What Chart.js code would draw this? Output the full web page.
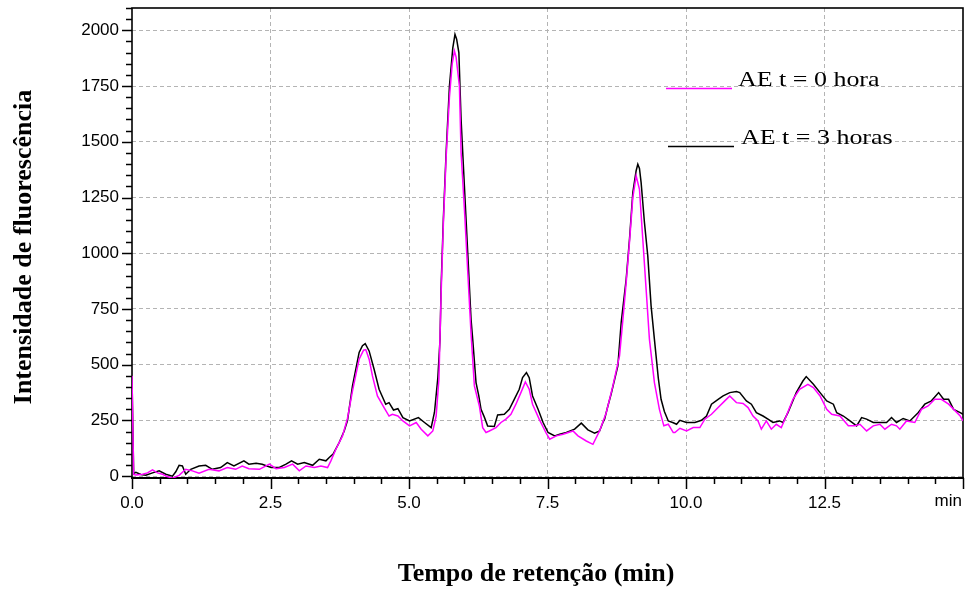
<!DOCTYPE html>
<html><head><meta charset="utf-8">
<script src="https://cdn.jsdelivr.net/npm/chart.js@4.4.0/dist/chart.umd.min.js"></script>
<style>html,body{margin:0;padding:0;background:#fff;}canvas{display:block;}</style>
</head><body>
<canvas id="c" width="966" height="591"></canvas>
<script>
// ---- data ----
const seriesLabels = ['AE t = 0 hora', 'AE t = 3 horas'];
const seriesColors = ['#ff00ff', '#000000'];

const timeT0 = [0.00,0.03,0.07,0.19,0.28,0.37,0.46,0.55,0.61,0.73,0.85,0.97,1.09,1.21,1.39,1.57,1.72,1.87,1.99,2.11,2.30,2.48,2.60,2.75,2.90,3.02,3.14,3.29,3.41,3.53,3.59,3.68,3.80,3.89,3.98,4.10,4.18,4.22,4.28,4.34,4.43,4.55,4.64,4.70,4.80,4.89,5.01,5.13,5.22,5.34,5.43,5.49,5.54,5.58,5.62,5.67,5.73,5.78,5.82,5.85,5.91,5.94,6.00,6.06,6.12,6.18,6.27,6.33,6.39,6.45,6.57,6.66,6.75,6.84,6.93,7.02,7.10,7.17,7.23,7.35,7.47,7.54,7.66,7.78,7.96,8.05,8.20,8.32,8.44,8.56,8.68,8.80,8.86,8.92,8.98,9.04,9.10,9.16,9.22,9.28,9.34,9.43,9.52,9.60,9.68,9.77,9.80,9.89,10.01,10.13,10.25,10.34,10.46,10.58,10.70,10.79,10.91,11.03,11.12,11.21,11.30,11.36,11.45,11.54,11.63,11.72,11.81,11.93,12.05,12.20,12.30,12.42,12.54,12.63,12.78,12.93,13.05,13.14,13.26,13.38,13.50,13.59,13.71,13.80,13.86,13.98,14.13,14.25,14.37,14.49,14.61,14.74,14.86,14.95,15.00];
const intensityT0 = [450,8,5,9,15,28,15,9,1,-9,4,31,24,13,31,24,39,31,46,34,31,54,34,39,54,24,46,39,46,39,69,121,181,260,383,525,565,568,525,450,360,308,270,278,270,248,226,241,211,181,203,270,435,820,1130,1430,1700,1850,1907,1880,1750,1452,1200,920,640,405,315,218,196,203,218,241,256,278,323,375,423,390,323,256,196,166,181,188,203,181,158,143,203,285,405,540,700,868,1050,1250,1347,1287,1063,839,614,420,300,226,233,196,196,215,203,218,218,256,278,308,338,360,330,326,308,270,248,211,248,211,233,218,270,345,390,412,398,360,300,278,270,226,226,233,203,226,233,211,233,226,211,248,241,300,315,345,345,323,293,270,248];

const timeT3 = [0.00,0.03,0.07,0.16,0.25,0.37,0.49,0.61,0.73,0.79,0.85,0.91,0.97,1.06,1.21,1.33,1.45,1.60,1.72,1.84,2.02,2.11,2.24,2.35,2.51,2.66,2.78,2.88,2.99,3.11,3.26,3.38,3.50,3.56,3.63,3.74,3.83,3.89,3.98,4.10,4.16,4.21,4.28,4.37,4.46,4.58,4.64,4.72,4.80,4.89,5.01,5.17,5.28,5.40,5.46,5.52,5.56,5.58,5.62,5.67,5.73,5.79,5.83,5.86,5.90,5.94,6.00,6.06,6.12,6.15,6.21,6.26,6.30,6.36,6.42,6.54,6.60,6.72,6.81,6.90,6.99,7.05,7.12,7.17,7.23,7.33,7.42,7.51,7.63,7.72,7.84,7.99,8.11,8.23,8.35,8.44,8.50,8.53,8.59,8.65,8.77,8.83,8.92,8.98,9.04,9.10,9.13,9.16,9.19,9.25,9.31,9.37,9.43,9.50,9.55,9.61,9.68,9.77,9.83,9.89,10.01,10.16,10.28,10.37,10.46,10.58,10.67,10.79,10.91,10.97,11.09,11.18,11.27,11.39,11.48,11.57,11.69,11.75,11.84,11.99,12.11,12.17,12.30,12.42,12.54,12.66,12.72,12.84,12.96,13.08,13.17,13.26,13.38,13.50,13.62,13.71,13.80,13.92,14.04,14.19,14.31,14.43,14.56,14.65,14.74,14.83,14.95,15.00];
const intensityT3 = [440,12,17,8,4,15,24,9,0,20,49,46,9,31,46,49,31,39,61,46,69,54,58,54,39,39,54,69,54,61,49,76,69,84,99,151,203,250,405,555,585,595,562,480,390,323,330,297,303,263,248,263,241,218,287,440,614,853,1152,1452,1750,1920,1982,1960,1900,1601,1302,1003,704,614,420,360,300,265,225,223,275,278,300,345,390,442,465,442,360,300,241,196,181,188,196,211,238,208,193,203,241,256,315,370,495,689,883,1063,1272,1370,1399,1380,1317,1138,988,764,614,440,345,290,248,240,233,251,241,241,251,270,323,345,360,375,380,375,338,323,285,270,256,241,248,241,285,375,427,447,412,375,338,323,285,270,248,226,263,256,241,241,241,263,241,259,248,285,323,338,375,345,345,300,285,278];

const xMajorValues = [0, 2.5, 5, 7.5, 10, 12.5];
const xMajorLabels = ['0.0', '2.5', '5.0', '7.5', '10.0', '12.5'];
const xUnitLabel = 'min';
const yMajorValues = [0, 250, 500, 750, 1000, 1250, 1500, 1750, 2000];
const yMajorLabels = ['0', '250', '500', '750', '1000', '1250', '1500', '1750', '2000'];
const xTitle = 'Tempo de retenção (min)';
const yTitle = 'Intensidade de fluorescência';

// ---- chart ----
const X_MIN = 0, X_MAX = 15, X_STEP = 0.5;
const Y_MIN = -8, Y_MAX = 2100, Y_STEP = 50;
const GRID = '#b4b4b4';
const TICK_FONT = {family: '"Liberation Sans", Arial, sans-serif', size: 17};

function toPoints(ts, vs) { return ts.map((t, i) => ({x: t, y: vs[i]})); }
function isMajorX(v) { return xMajorValues.some(m => Math.abs(m - v) < 1e-6); }
function isMajorY(v) { return yMajorValues.some(m => Math.abs(m - v) < 1e-6); }

const framePlugin = {
  id: 'frame',
  beforeDatasetsDraw(chart) {
    const {ctx, chartArea: a, scales: {x, y}} = chart;
    ctx.save();
    ctx.strokeStyle = '#000';
    ctx.lineWidth = 1.6;
    ctx.strokeRect(a.left, a.top, a.right - a.left, a.bottom - a.top);
    ctx.lineWidth = 2;
    ctx.beginPath(); ctx.moveTo(a.left - 1, a.bottom); ctx.lineTo(a.right + 1, a.bottom); ctx.stroke();
    ctx.lineWidth = 1.5;
    for (let v = 0; v <= Y_MAX + 1e-6; v += Y_STEP) {
      const py = Math.round(y.getPixelForValue(v)) + 0.5;
      const len = isMajorY(v) ? 10 : 6;
      ctx.beginPath(); ctx.moveTo(a.left - len, py); ctx.lineTo(a.left, py); ctx.stroke();
    }
    for (let v = X_MIN; v <= X_MAX + 1e-6; v += X_STEP) {
      const px = Math.round(x.getPixelForValue(v)) + 0.5;
      const len = (isMajorX(v) || Math.abs(v - X_MAX) < 1e-6) ? 11 : 6;
      ctx.beginPath(); ctx.moveTo(px, a.bottom); ctx.lineTo(px, a.bottom + len); ctx.stroke();
    }
    // unit label at the axis end, right-aligned to its tick
    ctx.fillStyle = '#000';
    ctx.font = TICK_FONT.size + 'px ' + TICK_FONT.family;
    ctx.textAlign = 'right';
    ctx.textBaseline = 'top';
    ctx.fillText(xUnitLabel, x.getPixelForValue(X_MAX) - 1, a.bottom + 15);
    ctx.restore();
  },
  afterDraw(chart) {
    const {ctx} = chart;
    ctx.save();
    ctx.fillStyle = '#000';
    // axis titles
    ctx.font = 'bold 26px "Liberation Serif", "Times New Roman", serif';
    ctx.textAlign = 'center';
    ctx.textBaseline = 'alphabetic';
    ctx.fillText(xTitle, 536, 581);
    ctx.translate(31, 247);
    ctx.rotate(-Math.PI / 2);
    ctx.fillText(yTitle, 0, 0);
    ctx.restore();
    // legend
    const items = [
      {x1: 666, x2: 732, ly: 88.5, tx: 738, ty: 86},
      {x1: 668, x2: 734, ly: 146.5, tx: 741, ty: 143.5}
    ];
    chart.data.datasets.forEach((ds, i) => {
      const it = items[i];
      ctx.save();
      ctx.strokeStyle = ds.borderColor;
      ctx.lineWidth = 1.5;
      ctx.beginPath(); ctx.moveTo(it.x1, it.ly); ctx.lineTo(it.x2, it.ly); ctx.stroke();
      ctx.fillStyle = '#000';
      ctx.font = '22px "Liberation Serif", "Times New Roman", serif';
      ctx.textAlign = 'left';
      ctx.textBaseline = 'alphabetic';
      ctx.translate(it.tx, it.ty);
      ctx.scale(1.18, 1);
      ctx.fillText(ds.label, 0, 0);
      ctx.restore();
    });
  }
};

new Chart(document.getElementById('c'), {
  type: 'line',
  data: {
    datasets: [
      {label: seriesLabels[0], data: toPoints(timeT0, intensityT0), borderColor: seriesColors[0], borderWidth: 1.5, pointRadius: 0, tension: 0, fill: false},
      {label: seriesLabels[1], data: toPoints(timeT3, intensityT3), borderColor: seriesColors[1], borderWidth: 1.5, pointRadius: 0, tension: 0, fill: false}
    ]
  },
  options: {
    responsive: false,
    animation: false,
    devicePixelRatio: 1,
    layout: {padding: {top: 8, right: 3, left: 0, bottom: 0}},
    plugins: {legend: {display: false}, tooltip: {enabled: false}},
    scales: {
      x: {
        type: 'linear', min: X_MIN, max: X_MAX,
        afterBuildTicks(s) { const t = []; for (let v = X_MIN; v <= X_MAX + 1e-6; v += X_STEP) t.push({value: Math.round(v * 10) / 10}); s.ticks = t; },
        afterFit(s) { s.height = 113; s.paddingLeft = 0; s.paddingRight = 0; s.paddingTop = 0; s.paddingBottom = 0; },
        ticks: {
          autoSkip: false, maxRotation: 0, minRotation: 0, padding: 15, color: '#000', font: TICK_FONT,
          callback(v) { const i = xMajorValues.findIndex(m => Math.abs(m - v) < 1e-6); return i >= 0 ? xMajorLabels[i] : ''; }
        },
        grid: {drawTicks: false, lineWidth: 1, color: c => (isMajorX(c.tick.value) && c.tick.value > X_MIN) ? GRID : 'rgba(0,0,0,0)'},
        border: {display: false, dash: [4, 3]}
      },
      y: {
        type: 'linear', min: Y_MIN, max: Y_MAX,
        afterBuildTicks(s) { const t = [{value: Y_MIN}]; for (let v = 0; v <= Y_MAX; v += Y_STEP) t.push({value: v}); s.ticks = t; },
        afterFit(s) { s.width = 132; s.paddingLeft = 0; s.paddingRight = 0; s.paddingTop = 0; s.paddingBottom = 0; },
        ticks: {
          autoSkip: false, padding: 13, color: '#000', font: TICK_FONT,
          callback(v) { const i = yMajorValues.findIndex(m => Math.abs(m - v) < 1e-6); return i >= 0 ? yMajorLabels[i] : ''; }
        },
        grid: {drawTicks: false, lineWidth: 1, color: c => isMajorY(c.tick.value) ? GRID : 'rgba(0,0,0,0)'},
        border: {display: false, dash: [4, 3]}
      }
    }
  },
  plugins: [framePlugin]
});
</script>
</body></html>
